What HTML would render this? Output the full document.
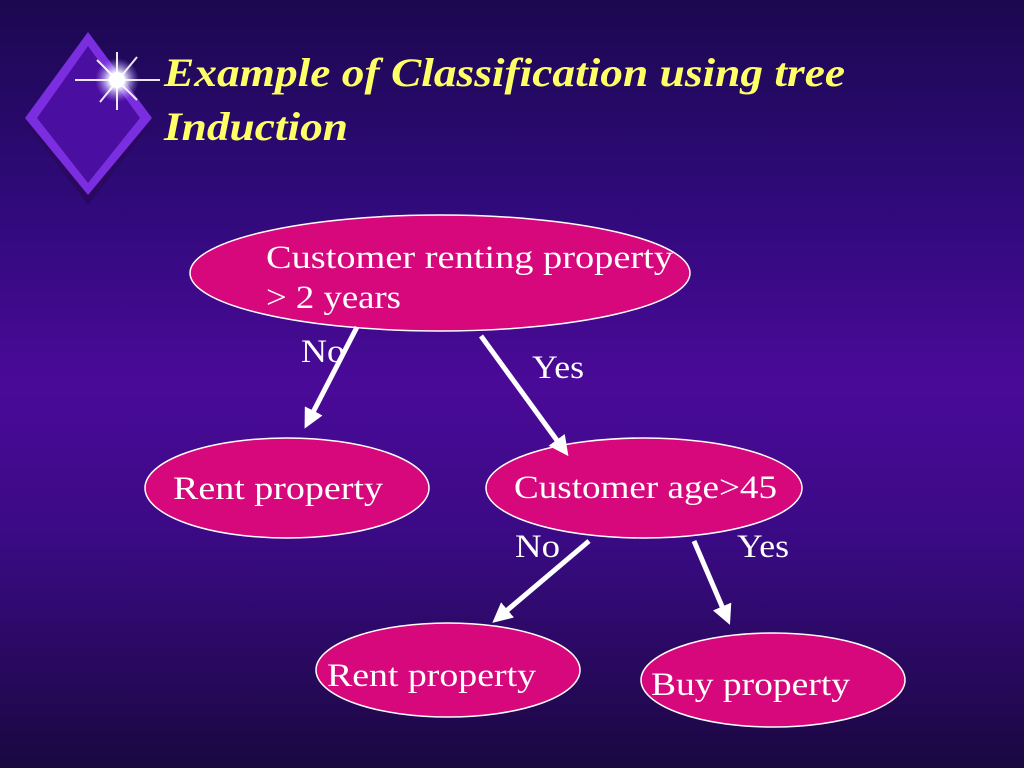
<!DOCTYPE html>
<html><head><style>
body{margin:0;width:1024px;height:768px;overflow:hidden;background:linear-gradient(180deg,#1c0850 0%,#2e0a78 25%,#4a0a98 50%,#3a0a84 70%,#1a0840 100%);}
</style></head><body>
<svg width="1024" height="768" style="position:absolute;left:0;top:0">
<defs>
<radialGradient id="st" cx="0.5" cy="0.5" r="0.5"><stop offset="0" stop-color="#fff"/><stop offset="0.4" stop-color="#eef" stop-opacity="0.9"/><stop offset="1" stop-color="#a8f" stop-opacity="0"/></radialGradient>
<marker id="ah" markerWidth="4" markerHeight="4" refX="2.5" refY="2" orient="auto" markerUnits="strokeWidth"><path d="M0,0 L4,2 L0,4 z" fill="#fff"/></marker>
</defs>
<polygon points="88,40 152,122 88,205 25,122" fill="#2a0860"/>
<polygon points="88,32 152,118 88,195 25,118" fill="#7a2ee0"/>
<polygon points="88,46 140,118 88,183 37,118" fill="#4a0ea0"/>
<circle cx="117" cy="80" r="22" fill="url(#st)"/>
<g stroke="#fff" stroke-width="2" opacity="0.9">
<line x1="75" y1="80" x2="160" y2="80"/><line x1="117" y1="52" x2="117" y2="110"/>
<line x1="97" y1="60" x2="137" y2="100"/><line x1="137" y1="57" x2="100" y2="102"/>
</g>
<circle cx="117" cy="80" r="8" fill="#fff"/>
<g fill="#d6087c" stroke="#fff" stroke-width="1.5">
<ellipse cx="440" cy="273" rx="250" ry="58"/>
<ellipse cx="287" cy="488" rx="142" ry="50"/>
<ellipse cx="644" cy="488" rx="158" ry="50"/>
<ellipse cx="448" cy="670" rx="132" ry="47"/>
<ellipse cx="773" cy="680" rx="132" ry="47"/>
</g>
<g stroke="#fff" stroke-width="5" marker-end="url(#ah)">
<line x1="357" y1="327" x2="308" y2="422"/>
<line x1="481" y1="336" x2="564" y2="450"/>
<line x1="589" y1="541" x2="498" y2="618"/>
<line x1="694" y1="541" x2="727" y2="618"/>
</g>
<g font-family="Liberation Serif,serif" font-size="33" fill="#fff">
<text x="266" y="268" textLength="407" lengthAdjust="spacingAndGlyphs">Customer renting property</text>
<text x="266" y="308" textLength="135" lengthAdjust="spacingAndGlyphs">&gt; 2 years</text>
<text x="301" y="362" textLength="44" lengthAdjust="spacingAndGlyphs">No</text>
<text x="532" y="378" textLength="52" lengthAdjust="spacingAndGlyphs">Yes</text>
<text x="173" y="499" textLength="210" lengthAdjust="spacingAndGlyphs">Rent property</text>
<text x="514" y="498" textLength="263" lengthAdjust="spacingAndGlyphs">Customer age&gt;45</text>
<text x="515" y="557" textLength="45" lengthAdjust="spacingAndGlyphs">No</text>
<text x="737" y="557" textLength="52" lengthAdjust="spacingAndGlyphs">Yes</text>
<text x="327" y="686" textLength="209" lengthAdjust="spacingAndGlyphs">Rent property</text>
<text x="651" y="695" textLength="199" lengthAdjust="spacingAndGlyphs">Buy property</text>
</g>
<g font-family="Liberation Serif,serif" font-size="40" font-weight="bold" font-style="italic" fill="#ffff66">
<text x="164" y="86" textLength="681" lengthAdjust="spacingAndGlyphs">Example of Classification using tree</text>
<text x="164" y="140" textLength="184" lengthAdjust="spacingAndGlyphs">Induction</text>
</g>
</svg>
</body></html>
